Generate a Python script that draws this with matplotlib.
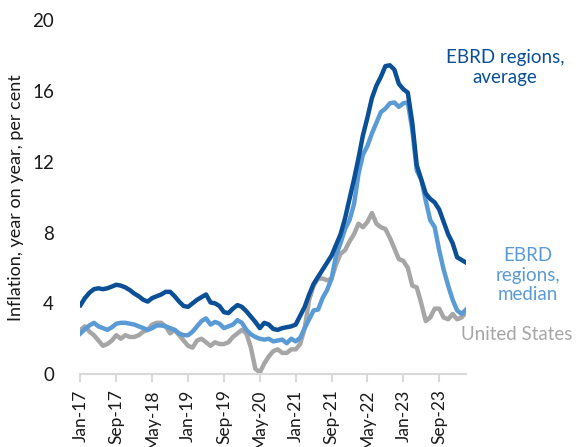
import matplotlib.pyplot as plt
import pandas as pd

plt.rcParams['font.family'] = ['Lato', 'DejaVu Sans']

# Monthly inflation, year on year, per cent (Jan-17 .. Mar-24)
months = pd.date_range('2017-01-01', '2024-03-01', freq='MS')
month_labels = [m.strftime('%b-%y') for m in months]

ebrd_average = [
    3.9, 4.3, 4.6, 4.8, 4.85, 4.8, 4.85, 4.95, 5.05, 5.0, 4.9, 4.75,
    4.55, 4.4, 4.2, 4.1, 4.3, 4.4, 4.5, 4.65, 4.65, 4.4, 4.1, 3.85,
    3.8, 4.0, 4.2, 4.35, 4.5, 4.05, 4.0, 3.85, 3.5, 3.45, 3.7, 3.9,
    3.8, 3.55, 3.25, 2.95, 2.6, 2.9, 2.8, 2.55, 2.5, 2.6, 2.65, 2.7,
    2.8, 3.3, 3.8, 4.5, 5.1, 5.5, 5.9, 6.3, 6.7, 7.3, 7.9, 8.8,
    9.9, 11.0, 12.2, 13.5, 14.5, 15.6, 16.3, 16.8, 17.4, 17.45, 17.2, 16.4,
    16.1, 15.9, 14.2, 11.8, 11.0, 10.2, 9.9, 9.7, 9.3, 8.6, 7.9, 7.4,
    6.6, 6.45, 6.3,
]

ebrd_median = [
    2.3, 2.55, 2.75, 2.9, 2.7, 2.6, 2.5, 2.65, 2.85, 2.9, 2.9, 2.85,
    2.8, 2.7, 2.6, 2.5, 2.6, 2.75, 2.75, 2.7, 2.6, 2.5, 2.3, 2.2,
    2.2, 2.4, 2.7, 3.0, 3.15, 2.8, 2.95, 2.85, 2.6, 2.7, 2.8, 3.05,
    2.9, 2.5, 2.25, 2.1, 2.0, 1.95, 2.0, 1.85, 1.9, 1.95, 1.75, 2.0,
    1.85, 2.05, 2.6, 3.1, 3.6, 3.65, 4.3, 4.75, 5.4, 6.7, 7.4, 8.2,
    8.7, 9.6, 11.3, 12.4, 12.9, 13.6, 14.2, 14.8, 15.0, 15.3, 15.35, 15.1,
    15.3, 15.35, 13.8, 11.5, 11.0, 9.8, 8.7, 8.3, 7.0, 5.9, 5.0, 4.2,
    3.6, 3.4, 3.65,
]

united_states = [
    2.5, 2.7, 2.4, 2.2, 1.9, 1.6, 1.7, 1.9, 2.2, 2.0, 2.2, 2.1,
    2.1, 2.2, 2.4, 2.5, 2.8, 2.9, 2.9, 2.7, 2.3, 2.5, 2.2, 1.9,
    1.6, 1.5, 1.9, 2.0, 1.8, 1.6, 1.8, 1.7, 1.7, 1.8, 2.1, 2.3,
    2.5, 2.3, 1.5, 0.3, 0.1, 0.6, 1.0, 1.3, 1.4, 1.2, 1.2, 1.4,
    1.4, 1.7, 2.6, 4.2, 5.0, 5.4, 5.4, 5.3, 5.4, 6.2, 6.8, 7.0,
    7.5, 7.9, 8.5, 8.3, 8.6, 9.1, 8.5, 8.3, 8.2, 7.7, 7.1, 6.5,
    6.4, 6.0, 5.0, 4.9, 4.0, 3.0, 3.2, 3.7, 3.7, 3.2, 3.1, 3.4,
    3.1, 3.2, 3.5,
]

x = list(range(len(months)))
dark_blue = '#0B4F96'
light_blue = '#5B9BD5'
grey = '#A6A6A6'

fig = plt.figure(figsize=(5.79, 4.47), dpi=100)
ax = fig.add_axes([0.139, 0.163, 0.666, 0.792])

ax.plot(x, united_states, color=grey, lw=3.2, solid_joinstyle='round')
ax.plot(x, ebrd_median, color=light_blue, lw=3.2, solid_joinstyle='round')
ax.plot(x, ebrd_average, color=dark_blue, lw=3.2, solid_joinstyle='round')

ax.set_xlim(0, len(months) - 1)
ax.set_ylim(0, 20)
ax.set_yticks([0, 4, 8, 12, 16, 20])
ax.set_xticks(x[::8])
ax.set_xticklabels(month_labels[::8], rotation=90)

for side in ['top', 'right', 'left']:
    ax.spines[side].set_visible(False)
ax.spines['bottom'].set_color('#D9D9D9')
ax.spines['bottom'].set_linewidth(1.5)
ax.tick_params(axis='x', colors='#D9D9D9', width=1.5, length=6, labelcolor='#1a1a1a',
               labelsize=12.5, pad=5)
ax.tick_params(axis='y', length=0, labelsize=13.5, labelcolor='#1a1a1a', pad=19)
ax.set_ylabel('Inflation, year on year, per cent', fontsize=13, labelpad=6,
              color='#1a1a1a')

fig.text(505 / 579, 1 - 67.5 / 447, 'EBRD regions,\naverage', color=dark_blue,
         fontsize=13.5, ha='center', va='center', linespacing=1.15)
fig.text(528 / 579, 1 - 275 / 447, 'EBRD\nregions,\nmedian', color=light_blue,
         fontsize=13.5, ha='center', va='center', linespacing=1.15)
fig.text(461 / 579, 1 - 335 / 447, 'United States', color=grey,
         fontsize=13.5, ha='left', va='center')

fig.savefig('out.png', dpi=100)
